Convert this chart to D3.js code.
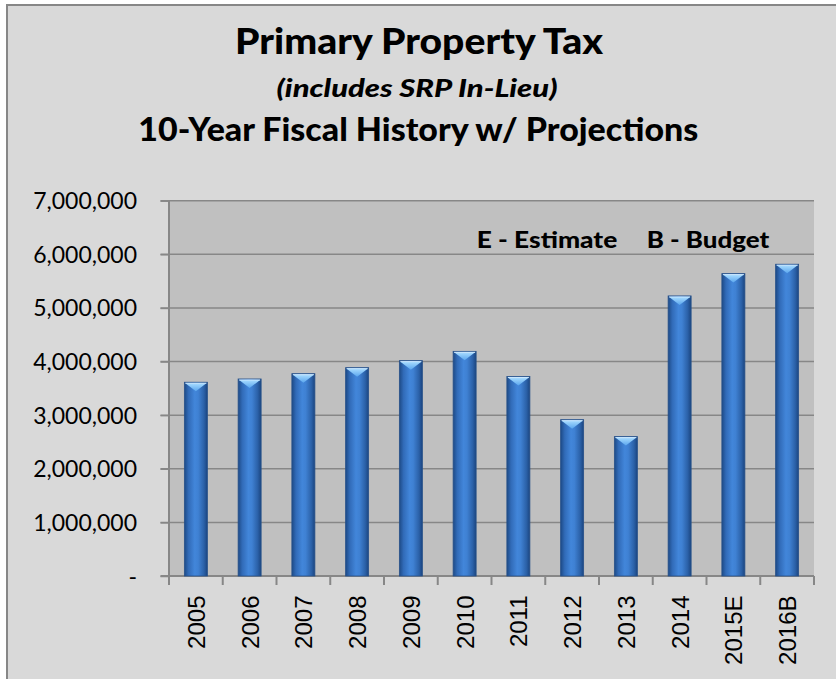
<!DOCTYPE html>
<html>
<head>
<meta charset="utf-8">
<script src="https://cdn.jsdelivr.net/npm/d3@7/dist/d3.min.js"></script>
<style>
  html, body { margin: 0; padding: 0; background: #ffffff; }
  svg { display: block; }
</style>
</head>
<body>
<script>
// Fiscal years shown along the x axis
const categories = ["2005", "2006", "2007", "2008", "2009", "2010", "2011", "2012", "2013", "2014", "2015E", "2016B"];
// Primary property tax revenue per fiscal year (dollars)
const values = [3614000, 3675000, 3774000, 3886000, 4017000, 4190000, 3720000, 2916000, 2600000, 5224000, 5640000, 5815000];
// Value axis ticks
const yTicks = [0, 1000000, 2000000, 3000000, 4000000, 5000000, 6000000, 7000000];
// Heading lines
const titleMain = "Primary Property Tax";
const titleSub = "(includes SRP In-Lieu)";
const titleHistory = "10-Year Fiscal History w/ Projections";
// Suffix key
const noteLabels = ["E - Estimate", "B - Budget"];

const W = 836, H = 679;
const plot = { left: 169, right: 814, top: 200.7, bottom: 576 };

const svg = d3.select("body").append("svg")
  .attr("width", W).attr("height", H);

const defs = svg.append("defs");
const barGrad = defs.append("linearGradient").attr("id", "barGrad")
  .attr("x1", "0%").attr("x2", "100%").attr("y1", "0%").attr("y2", "0%");
[["0%", "#1d4a86"], ["18%", "#316bb8"], ["45%", "#4286da"], ["60%", "#3f81d3"], ["85%", "#2b61a8"], ["100%", "#1b4580"]]
  .forEach(([o, c]) => barGrad.append("stop").attr("offset", o).attr("stop-color", c));
const capGrad = defs.append("linearGradient").attr("id", "capGrad")
  .attr("x1", "0%").attr("x2", "0%").attr("y1", "0%").attr("y2", "100%");
[["0%", "#a8dcff"], ["100%", "#5aa6ee"]]
  .forEach(([o, c]) => capGrad.append("stop").attr("offset", o).attr("stop-color", c));

// Chart frame
svg.append("rect")
  .attr("x", 7).attr("y", 5).attr("width", W + 10).attr("height", H + 10)
  .attr("fill", "#d9d9d9").attr("stroke", "#878787").attr("stroke-width", 2);

// Plot area background
svg.append("rect")
  .attr("x", plot.left).attr("y", plot.top)
  .attr("width", plot.right - plot.left).attr("height", plot.bottom - plot.top)
  .attr("fill", "#c0c0c0");

const x = d3.scaleBand().domain(categories)
  .range([plot.left, plot.right]).paddingInner(0.572).paddingOuter(0.286);
const y = d3.scaleLinear().domain([0, 7000000]).range([plot.bottom, plot.top]);
const step = x.step();
const gap = (step - x.bandwidth()) / 2;

// Horizontal gridlines
svg.append("g").selectAll("line").data(yTicks.filter(d => d > 0)).join("line")
  .attr("x1", plot.left - 8.5).attr("x2", plot.right)
  .attr("y1", d => y(d)).attr("y2", d => y(d))
  .attr("stroke", "#878787").attr("stroke-width", 1.5);

// Value axis
const yAxis = svg.append("g").attr("transform", `translate(${plot.left},0)`)
  .call(d3.axisLeft(y).tickValues(yTicks).tickSize(8.5).tickPadding(0)
    .tickFormat(d => d === 0 ? "-" : d3.format(",")(d)));
yAxis.select(".domain").remove();
yAxis.selectAll(".tick line").attr("stroke", "#878787").attr("stroke-width", 1.5);
yAxis.selectAll(".tick text")
  .attr("x", 137 - plot.left).attr("dy", null).attr("y", 8)
  .attr("text-anchor", "end")
  .attr("font-family", "Lato, 'Open Sans', sans-serif")
  .attr("font-size", 23).attr("fill", "#000");
svg.append("line")
  .attr("x1", plot.left).attr("x2", plot.left)
  .attr("y1", plot.top - 0.5).attr("y2", plot.bottom + 9)
  .attr("stroke", "#878787").attr("stroke-width", 2);

// Category axis
svg.append("line")
  .attr("x1", plot.left - 8.5).attr("x2", plot.right)
  .attr("y1", plot.bottom).attr("y2", plot.bottom)
  .attr("stroke", "#878787").attr("stroke-width", 2);
const boundaries = categories.map(c => x(c) - gap).concat([x(categories[categories.length - 1]) + x.bandwidth() + gap]);
svg.append("g").selectAll("line").data(boundaries).join("line")
  .attr("x1", d => d).attr("x2", d => d)
  .attr("y1", plot.bottom).attr("y2", plot.bottom + 9)
  .attr("stroke", "#878787").attr("stroke-width", 2);

svg.append("g").selectAll("text").data(categories).join("text")
  .attr("transform", d => `translate(${x(d) + x.bandwidth() / 2 + 9},595.5) rotate(-90)`)
  .attr("text-anchor", "end")
  .attr("font-family", "'Liberation Sans', Arial, sans-serif")
  .attr("font-size", 24).attr("fill", "#000")
  .text(d => d);

// Bars with bevelled tops
const bars = svg.append("g").selectAll("g").data(categories.map((c, i) => ({ c, v: values[i] }))).join("g");
bars.append("rect")
  .attr("x", d => x(d.c)).attr("y", d => y(d.v))
  .attr("width", x.bandwidth()).attr("height", d => y(0) - y(d.v))
  .attr("fill", "url(#barGrad)")
  .attr("stroke", "#27518a").attr("stroke-width", 0.8);
bars.append("path")
  .attr("d", d => {
    const x0 = x(d.c) + 1, x1 = x(d.c) + x.bandwidth() - 1, yt = y(d.v) + 1;
    return `M${x0},${yt}L${x1},${yt}L${(x0 + x1) / 2},${yt + 8}Z`;
  })
  .attr("fill", "url(#capGrad)");
bars.append("line")
  .attr("x1", d => x(d.c) + 1).attr("x2", d => x(d.c) + x.bandwidth() - 1)
  .attr("y1", d => y(d.v) + 1).attr("y2", d => y(d.v) + 1)
  .attr("stroke", "#cfeaff").attr("stroke-width", 1);

// Heading
const titleFont = "Lato, 'Open Sans', sans-serif";
svg.append("text").attr("x", 419).attr("y", 54.3)
  .attr("text-anchor", "middle").attr("font-family", titleFont)
  .attr("font-weight", 900).attr("font-size", 36)
  .attr("textLength", 368).attr("lengthAdjust", "spacingAndGlyphs")
  .text(titleMain);
svg.append("text").attr("x", 417).attr("y", 96.7)
  .attr("text-anchor", "middle").attr("font-family", titleFont)
  .attr("font-weight", 900).attr("font-style", "italic").attr("font-size", 25.5)
  .attr("textLength", 281).attr("lengthAdjust", "spacingAndGlyphs")
  .text(titleSub);
svg.append("text").attr("x", 418.3).attr("y", 141)
  .attr("text-anchor", "middle").attr("font-family", titleFont)
  .attr("font-weight", 900).attr("font-size", 32.5)
  .attr("textLength", 560).attr("lengthAdjust", "spacingAndGlyphs")
  .text(titleHistory);

// Suffix key inside the plot
const noteX = [476.7, 646.7];
const noteW = [140.6, 122.6];
svg.append("g").selectAll("text").data(noteLabels).join("text")
  .attr("x", (d, i) => noteX[i]).attr("y", 247.7)
  .attr("font-family", titleFont).attr("font-weight", 900).attr("font-size", 22)
  .attr("textLength", (d, i) => noteW[i]).attr("lengthAdjust", "spacingAndGlyphs")
  .text(d => d);
</script>
</body>
</html>
